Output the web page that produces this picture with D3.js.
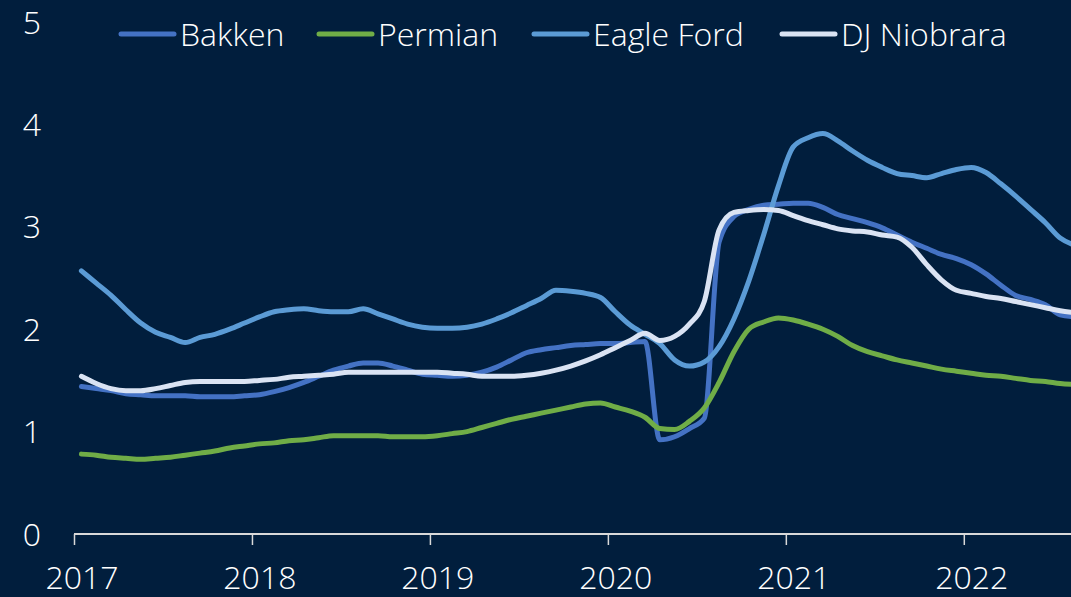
<!DOCTYPE html>
<html>
<head>
<meta charset="utf-8">
<script src="https://cdn.jsdelivr.net/npm/d3@7"></script>
<style>
  html, body { margin: 0; padding: 0; background: #011e3d; overflow: hidden; }
  svg { display: block; }
  text { font-family: "Open Sans", sans-serif; font-weight: 300; fill: #ffffff; }
</style>
</head>
<body>
<div id="chart"></div>
<script>
// monthly series, Jan 2017 .. Aug 2022
var years = ["2017", "2018", "2019", "2020", "2021", "2022"]
var yTicks = [0, 1, 2, 3, 4, 5]

var bakken = [1.44,1.42,1.40,1.37,1.36,1.35,1.35,1.35,1.34,1.34,1.34,1.35,
  1.36,1.39,1.43,1.48,1.54,1.60,1.64,1.67,1.67,1.64,1.60,1.56,
  1.55,1.54,1.55,1.58,1.63,1.70,1.77,1.80,1.82,1.84,1.85,1.86,
  1.86,1.87,1.88,0.92,0.95,1.03,1.13,2.85,3.10,3.17,3.21,3.22,
  3.23,3.23,3.19,3.12,3.08,3.04,2.99,2.92,2.85,2.79,2.73,2.69,
  2.63,2.54,2.43,2.33,2.29,2.24,2.14,2.12]

var permian = [0.78,0.77,0.75,0.74,0.73,0.74,0.75,0.77,0.79,0.81,0.84,0.86,
  0.88,0.89,0.91,0.92,0.94,0.96,0.96,0.96,0.96,0.95,0.95,0.95,
  0.96,0.98,1.00,1.04,1.08,1.12,1.15,1.18,1.21,1.24,1.27,1.28,
  1.24,1.20,1.14,1.03,1.02,1.10,1.23,1.48,1.78,2.00,2.07,2.11,
  2.09,2.05,2.00,1.93,1.84,1.78,1.74,1.70,1.67,1.64,1.61,1.59,
  1.57,1.55,1.54,1.52,1.50,1.49,1.47,1.46]

var eagleFord = [2.57,2.45,2.33,2.19,2.06,1.97,1.92,1.87,1.92,1.95,2.00,2.06,
  2.12,2.17,2.19,2.20,2.18,2.17,2.17,2.20,2.15,2.10,2.05,2.02,
  2.01,2.01,2.02,2.05,2.10,2.16,2.23,2.30,2.38,2.37,2.35,2.31,
  2.17,2.04,1.95,1.86,1.70,1.64,1.68,1.83,2.10,2.47,2.92,3.40,
  3.78,3.87,3.91,3.84,3.74,3.65,3.58,3.52,3.50,3.48,3.52,3.56,
  3.58,3.53,3.42,3.30,3.17,3.04,2.89,2.82]

var djNiobrara = [1.54,1.47,1.42,1.40,1.40,1.42,1.45,1.48,1.49,1.49,1.49,1.49,
  1.50,1.51,1.53,1.54,1.55,1.56,1.58,1.58,1.58,1.58,1.58,1.58,
  1.58,1.57,1.56,1.54,1.54,1.54,1.55,1.57,1.60,1.64,1.69,1.75,
  1.82,1.89,1.96,1.89,1.93,2.05,2.27,2.97,3.14,3.16,3.17,3.16,
  3.11,3.06,3.02,2.98,2.96,2.95,2.92,2.90,2.80,2.63,2.48,2.38,
  2.35,2.32,2.30,2.27,2.24,2.21,2.18,2.16]

var seriesNames = ["Bakken", "Permian", "Eagle Ford", "DJ Niobrara"]
var seriesValues = [bakken, permian, eagleFord, djNiobrara]
var seriesColors = ["#4472c4", "#70ad47", "#5b9bd5", "#dae3f3"]

var width = 1071
var height = 597
var left = 74
var monthWidth = 14.83
var nMonths = 68

var svg = d3.select("#chart").append("svg")
    .attr("width", width)
    .attr("height", height)

svg.append("rect")
    .attr("width", width)
    .attr("height", height)
    .attr("fill", "#011e3d")

// x is month index, a point sits in the middle of its month slot
var x = d3.scaleLinear()
    .domain([0, nMonths])
    .range([left, left + nMonths * monthWidth])

var y = d3.scaleLinear()
    .domain([0, 5])
    .range([534, 22])

// y labels, no axis line
svg.append("g").selectAll("text")
    .data(yTicks)
    .enter().append("text")
    .attr("x", 41)
    .attr("y", function(d){ return y(d) })
    .attr("dy", "0.36em")
    .attr("text-anchor", "end")
    .attr("font-size", 32)
    .text(function(d){ return d })

// x axis: ticks at year boundaries
var xAxis = d3.axisBottom(x)
    .tickValues(years.map(function(d, i){ return i * 12 }))
    .tickSize(11)
    .tickSizeOuter(0)
    .tickFormat(function(d){ return years[d / 12] })

var gx = svg.append("g")
    .attr("transform", "translate(0," + y(0) + ")")
    .call(xAxis)

gx.select(".domain")
    .attr("stroke", "#d9d9d9")
    .attr("stroke-width", 2)
    .attr("d", "M" + left + ",0H" + width)
gx.selectAll(".tick line")
    .attr("stroke", "#d9d9d9")
    .attr("stroke-width", 1.5)
gx.selectAll(".tick text")
    .attr("fill", "#ffffff")
    .attr("font-family", "Open Sans, sans-serif")
    .attr("font-weight", 300)
    .attr("font-size", 32)
    .attr("x", monthWidth / 2)
    .attr("y", 32)
    .attr("dy", "0.71em")

var line = d3.line()
    .x(function(d, i){ return x(i + 0.5) })
    .y(function(d){ return y(d) })
    .curve(d3.curveMonotoneX)

svg.append("g").selectAll("path")
    .data(seriesValues)
    .enter().append("path")
    .attr("d", line)
    .attr("fill", "none")
    .attr("stroke", function(d, i){ return seriesColors[i] })
    .attr("stroke-width", 5)
    .attr("stroke-linejoin", "round")
    .attr("stroke-linecap", "round")

// legend items start where the reference puts them
var legendX = [121, 319, 534, 782]
var legendY = 34
var legend = svg.append("g")
seriesNames.forEach(function(name, i){
    legend.append("line")
        .attr("x1", legendX[i]).attr("x2", legendX[i] + 53)
        .attr("y1", legendY).attr("y2", legendY)
        .attr("stroke", seriesColors[i])
        .attr("stroke-width", 5)
        .attr("stroke-linecap", "round")
    legend.append("text")
        .attr("x", legendX[i] + 59)
        .attr("y", legendY)
        .attr("dy", "0.36em")
        .attr("font-size", 32)
        .text(name)
})
</script>
</body>
</html>
